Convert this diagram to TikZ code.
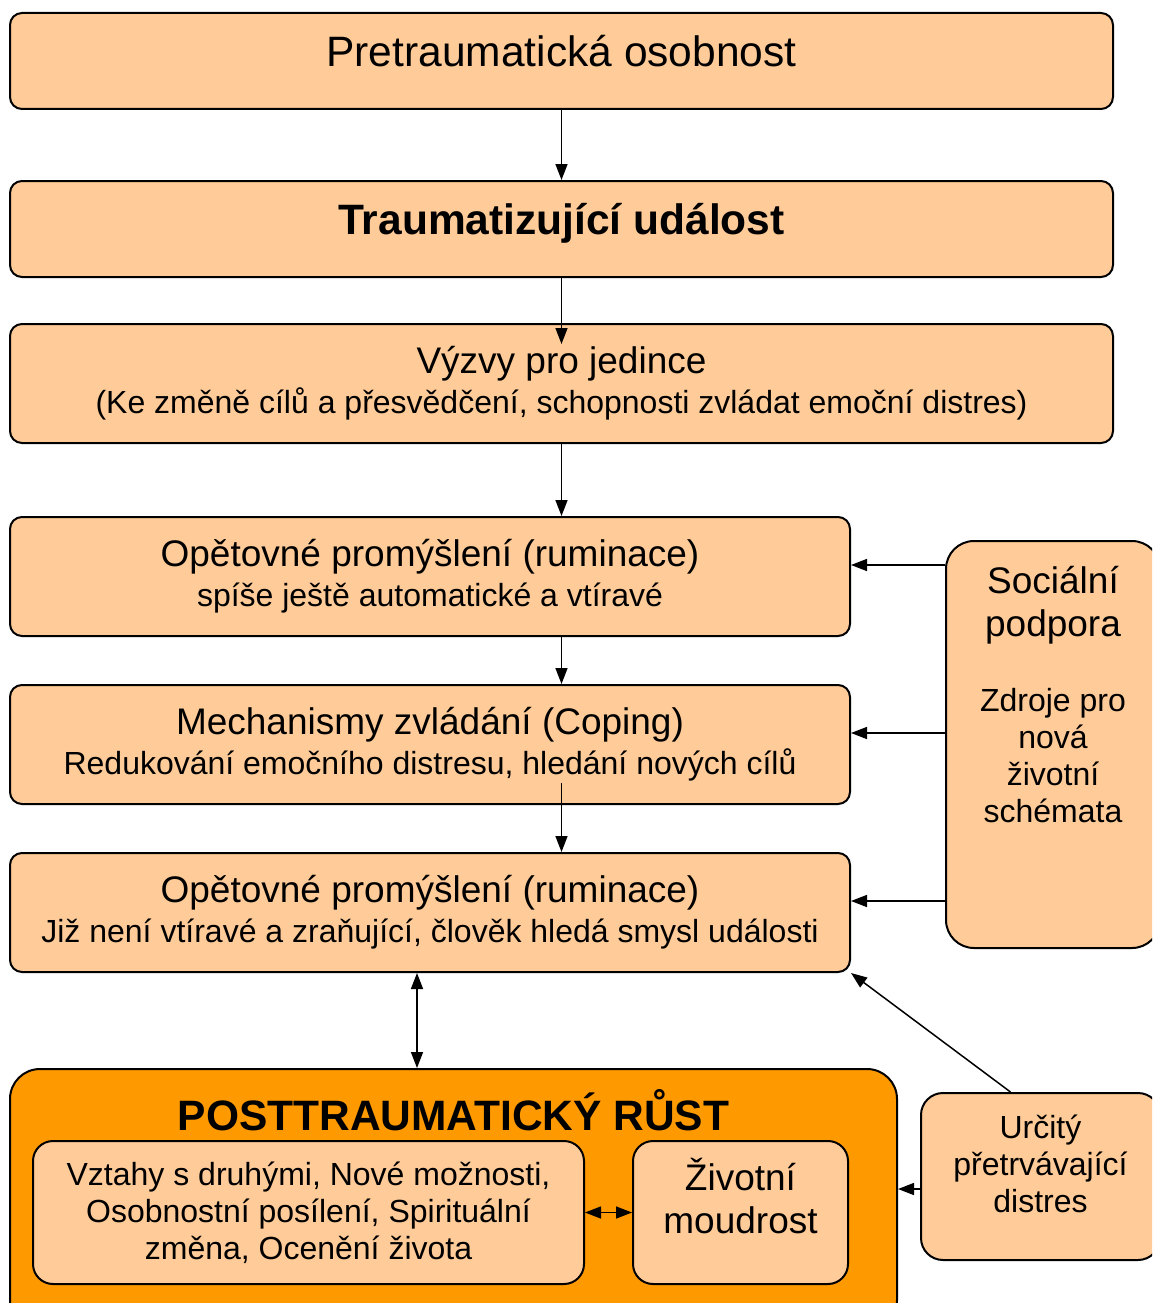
\documentclass[tikz,border=0pt]{standalone}
\usepackage{fontspec}
\setmainfont{Liberation Sans}
\usetikzlibrary{arrows.meta,positioning,calc}
\definecolor{peach}{RGB}{255,204,153}
\definecolor{ptgorange}{RGB}{255,153,0}

\begin{document}
\begin{tikzpicture}
[x=1pt, y=-1pt, line width=1.5pt,
box/.style={rectangle, rounded corners=12pt, draw, fill=peach, line width=2pt, align=center, inner sep=0pt},
big/.style={font=\fontsize{42.5}{48}\selectfont},
main/.style={font=\fontsize{37}{40}\selectfont},
small/.style={font=\fontsize{32}{37}\selectfont},
arr/.style={-{Triangle[length=16pt,width=12pt]}, line width=1.5pt},
dbl/.style={{Triangle[length=16pt,width=12pt]}-{Triangle[length=16pt,width=12pt]}, line width=1.5pt}]

\clip (0,0) rectangle (1152,1303);
\fill[white] (0,0) rectangle (1152,1303);

% main column
\node[box, big, text depth=20pt, minimum width=1103pt, minimum height=96pt] (pre) at (561.5,61) {Pretraumatická osobnost};
\node[box, big, text depth=20pt, minimum width=1103pt, minimum height=96pt] (trauma) at (561.5,229) {\bfseries Traumatizující událost};
\node[box, main, minimum width=1103pt, minimum height=119pt] (vyzvy) at (561.5,383.5)
  {Výzvy pro jedince\\\fontsize{32}{40}\selectfont (Ke změně cílů a přesvědčení, schopnosti zvládat emoční distres)};
\node[box, main, minimum width=840pt, minimum height=119pt] (rum1) at (430,576.5)
  {Opětovné promýšlení (ruminace)\\\fontsize{32}{40}\selectfont spíše ještě automatické a vtíravé};
\node[box, main, minimum width=840pt, minimum height=119pt] (coping) at (430,744.5)
  {Mechanismy zvládání (Coping)\\\fontsize{32}{40}\selectfont Redukování emočního distresu, hledání nových cílů};
\node[box, main, minimum width=840pt, minimum height=119pt] (rum2) at (430,912.5)
  {Opětovné promýšlení (ruminace)\\\fontsize{32}{40}\selectfont Již není vtíravé a zraňující, člověk hledá smysl události};

% side boxes
\node[box, rounded corners=28pt, minimum width=214pt, minimum height=407pt] (social) at (1053,744.5) {};
\node[small, align=center] (socialtext) at (1053,695)
  {{\fontsize{37}{44}\selectfont Sociální}\\[6pt]{\fontsize{37}{44}\selectfont podpora}\\[38pt]Zdroje pro\\nová\\životní\\schémata};
\node[box, rounded corners=22pt, minimum width=239pt, minimum height=167pt] (distress) at (1040.5,1176.5) {};
\node[small, align=center] (distresstext) at (1040.5,1164) {Určitý\\přetrvávající\\distres};

% growth
\node[box, fill=ptgorange, rounded corners=30pt, minimum width=887pt, minimum height=261pt] (ptg) at (453.5,1199.5) {};
\node[font=\fontsize{42.5}{48}\selectfont\bfseries] (ptgtitle) at (453.5,1110) {POSTTRAUMATICKÝ RŮST};
\node[box, small, rounded corners=20pt, minimum width=551pt, minimum height=143pt] (gains) at (308.5,1212.5)
  {Vztahy s druhými, Nové možnosti,\\Osobnostní posílení, Spirituální\\změna, Ocenění života};
\node[box, rounded corners=20pt, minimum width=215pt, minimum height=143pt] (wisdom) at (740.5,1212.5) {};
\node[main, align=center] (wisdomtext) at (740.5,1196) {Životní\\[3pt]moudrost};

% arrows
\coordinate (dx) at (417,0);
\draw[arr] (pre) -- (trauma);
\draw[arr] (trauma.south) -- ($(vyzvy.north)+(0,21)$);
\draw[arr] (vyzvy.south) -- (vyzvy.south |- rum1.north);
\draw[arr] (rum1.south -| vyzvy.south) -- (coping.north -| vyzvy.south);
\draw[arr] ($(coping.south -| vyzvy.south)+(0,-22)$) -- (rum2.north -| vyzvy.south);
\draw[dbl] (rum2.south -| dx) -- (ptg.north -| dx);

\draw[arr] ($(social.west |- rum1.east)+(0,-11.5)$) -- ($(rum1.east)+(0,-11.5)$);
\draw[arr] ($(social.west |- coping.east)+(0,-11.5)$) -- ($(coping.east)+(0,-11.5)$);
\draw[arr] ($(social.west |- rum2.east)+(0,-11.5)$) -- ($(rum2.east)+(0,-11.5)$);

\draw[arr] ($(distress.north)+(-30,0)$) -- (rum2.south east);
\draw[arr] ($(distress.west)+(0,12.5)$) -- ($(distress.west -| ptg.east)+(0,12.5)$);
\draw[dbl] (gains) -- (wisdom);
\end{tikzpicture}
\end{document}
